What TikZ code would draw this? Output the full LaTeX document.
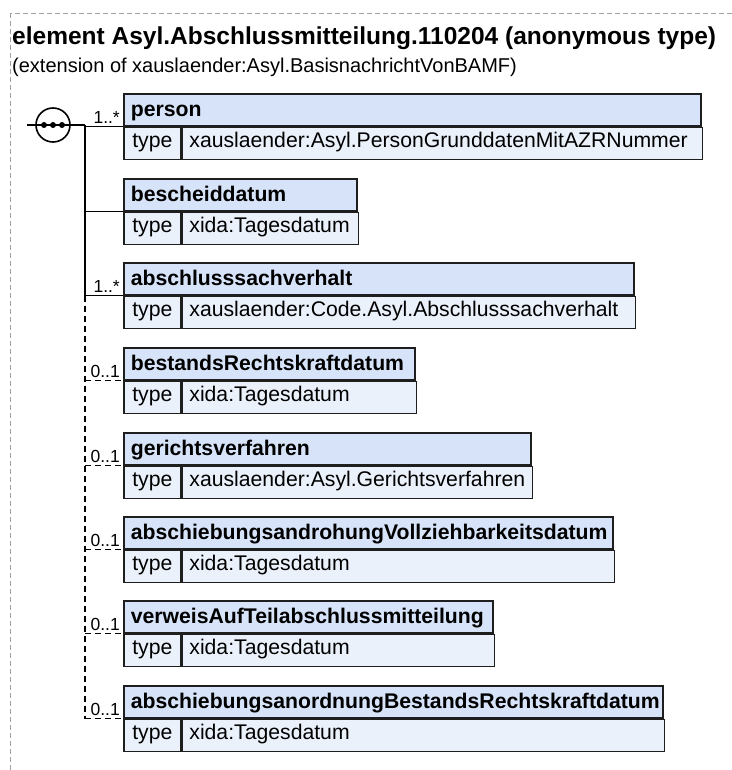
\documentclass[tikz,border=0pt]{standalone}
\usepackage{fontspec}
\setmainfont{Liberation Sans}
\usetikzlibrary{positioning}
\definecolor{hdrblue}{HTML}{D6E3F8}
\definecolor{rowblue}{HTML}{EBF1FB}
\definecolor{framegray}{HTML}{A0A0A0}
\definecolor{edgegray}{HTML}{1E1E1E}

\begin{document}
\begin{tikzpicture}[
x=1pt, y=-1pt,
hdr/.style={draw=edgegray, line width=1.6pt, fill=hdrblue, minimum height=32pt, anchor=north west, inner xsep=7pt, inner ysep=0pt, align=left, text height=16.5pt, text depth=2.5pt, font=\fontsize{21.2}{24}\selectfont\bfseries},
typelbl/.style={draw=edgegray, line width=1.6pt, fill=rowblue, minimum height=32pt, minimum width=57pt, anchor=north west, inner xsep=4pt, inner ysep=0pt, text height=13.5pt, text depth=5.5pt, font=\fontsize{21.2}{24}\selectfont},
typeval/.style={draw=edgegray, line width=1.6pt, fill=rowblue, minimum height=32pt, anchor=north west, inner xsep=7pt, inner ysep=0pt, align=left, text height=13.5pt, text depth=5.5pt, font=\fontsize{21.2}{24}\selectfont},
conn/.style={line width=1.7pt, black},
connopt/.style={conn, dash pattern=on 6pt off 4pt},
mult/.style={anchor=base east, inner sep=0pt, xshift=-3pt, yshift=3pt, font=\fontsize{17.5}{20}\selectfont},
seqcirc/.style={circle, draw=black, line width=1.6pt, fill=white, minimum size=34pt, inner sep=0pt},
frame/.style={draw=framegray, line width=0.8pt, dash pattern=on 5pt off 3pt}
]
\useasboundingbox (0,0) rectangle (731,770);
\draw[frame] (10,13) rectangle (760,800);

% title
\node[anchor=base west, inner sep=0pt, font=\fontsize{24.5}{28}\selectfont\bfseries] (title) at (12,45) {element Asyl.Abschlussmitteilung.110204 (anonymous type)};
\node[anchor=base west, inner sep=0pt, font=\fontsize{20}{24}\selectfont] (ext) at (12,73) {(extension of xauslaender:Asyl.BasisnachrichtVonBAMF)};

% sequence
\node[seqcirc] (seq) at (53,125) {};
\coordinate (seqin) at (27,125);
\coordinate (trunk) at (85,125);
\draw[conn] (seqin) -- (trunk);
\foreach \dx in {-9,0,9}
  \fill (seq.center) ++(\dx,0) circle (3pt);

% child elements
\foreach \n/\top/\w/\title/\type in {
  person/93/577/person/xauslaender:Asyl.PersonGrunddatenMitAZRNummer,
  bescheid/178/233/bescheiddatum/xida:Tagesdatum,
  abschluss/262/510/abschlusssachverhalt/xauslaender:Code.Asyl.Abschlusssachverhalt,
  bestands/347/291/bestandsRechtskraftdatum/xida:Tagesdatum,
  gericht/432/407/gerichtsverfahren/xauslaender:Asyl.Gerichtsverfahren,
  androhung/516/489/abschiebungsandrohungVollziehbarkeitsdatum/xida:Tagesdatum,
  verweis/600/369/verweisAufTeilabschlussmitteilung/xida:Tagesdatum,
  anordnung/685/539/abschiebungsanordnungBestandsRechtskraftdatum/xida:Tagesdatum}{
  \pgfmathsetmacro\tw{\w-14}
  \pgfmathsetmacro\vw{\w-57-14}
  \node[hdr, text width=\tw pt] (\n-h) at (123,\top) {\title};
  \node[typelbl] (\n-t) at (\n-h.south west) {type};
  \node[typeval, text width=\vw pt] (\n-v) at (\n-t.north east) {\type};
}

% connectors
\draw[conn] (trunk) -- (abschluss-h.south west -| trunk);
\draw[connopt] (abschluss-h.south west -| trunk) -- (anordnung-h.south west -| trunk);
\foreach \n in {person,bescheid,abschluss}
  \draw[conn] (\n-h.south west -| trunk) -- (\n-h.south west);
\foreach \n in {bestands,gericht,androhung,verweis,anordnung}
  \draw[connopt] (\n-h.south west -| trunk) -- (\n-h.south west);

% multiplicities
\node[mult] (m-person) at (person-h.south west) {1..*};
\node[mult] (m-abschluss) at (abschluss-h.south west) {1..*};
\foreach \n in {bestands,gericht,androhung,verweis,anordnung}
  \node[mult] (m-\n) at (\n-h.south west) {0..1};
\end{tikzpicture}
\end{document}
